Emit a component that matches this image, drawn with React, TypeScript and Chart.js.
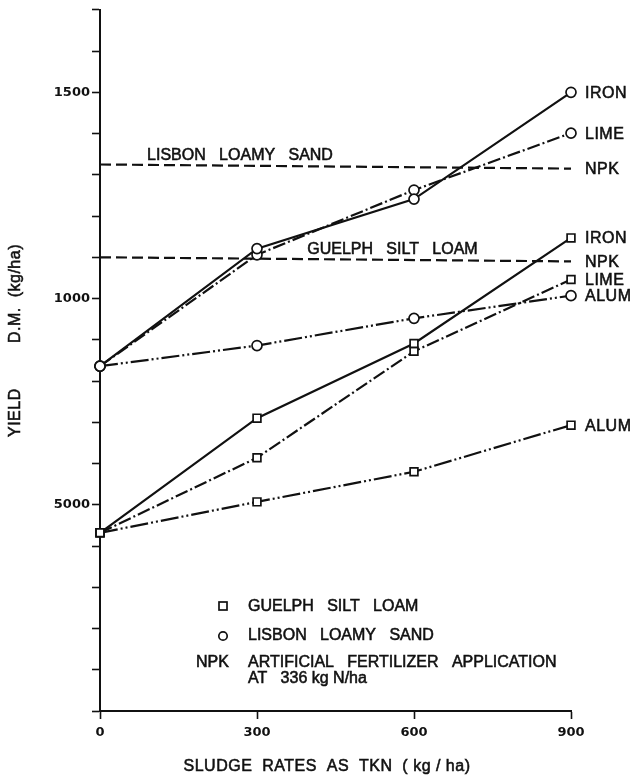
import React, { useEffect, useRef } from 'react';
import { Chart, registerables } from 'chart.js';

Chart.register(...registerables);

// ---- data ----
const sludgeRates = [0, 300, 600, 900];
const lisbonIron = [836, 1121, 1241, 1500];
const lisbonLime = [836, 1106, 1263, 1401];
const lisbonAlum = [836, 886, 952, 1007];
const guelphIron = [432, 710, 891, 1147];
const guelphLime = [432, 614, 872, 1046];
const guelphAlum = [432, 507, 580, 693];
const npkRates = [0, 900];
const lisbonNpk = [1325, 1315];
const guelphNpk = [1100, 1090];

const yTickLabels: Record<number, string> = { 500: '5000', 1000: '1000', 1500: '1500' };
const xAxisTitle = 'SLUDGE  RATES  AS  TKN  ( kg / ha)';
const yAxisTitleA = 'YIELD';
const yAxisTitleB = 'D.M.  (kg/ha)';
const lisbonName = 'LISBON   LOAMY   SAND';
const guelphName = 'GUELPH   SILT   LOAM';
const npkKey = 'NPK';
const npkText1 = 'ARTIFICIAL   FERTILIZER   APPLICATION';
const npkText2 = 'AT   336 kg N/ha';

const pts = (xs: number[], ys: number[]) => xs.map((x, i) => ({ x, y: ys[i] }));

const DASH_DOT = [13, 3, 2, 3];
const DASH_DOT_DOT = [18, 3, 2, 3, 2, 3];
const DASHED = [11, 5];
const FONT = '"Liberation Sans", Arial, sans-serif';
const INK = '#111';

function series(label: string, endLabel: string, xs: number[], ys: number[], dash: number[], style: string) {
  const isNpk = style === 'none';
  return {
    label,
    endLabel,
    data: pts(xs, ys),
    borderColor: INK,
    borderWidth: 2.2,
    borderDash: dash,
    pointStyle: isNpk ? false : style,
    pointRadius: isNpk ? 0 : style === 'rect' ? 5.5 : 5,
    pointBackgroundColor: '#fff',
    pointBorderColor: INK,
    pointBorderWidth: 1.7,
    tension: 0,
    fill: false,
    clip: false,
  };
}

function heavyText(ctx: CanvasRenderingContext2D, text: string, x: number, y: number) {
  ctx.fillText(text, x, y);
  ctx.strokeText(text, x, y);
}

const annotatePlugin = {
  id: 'annotate',
  afterDraw(chart: any) {
    const ctx: CanvasRenderingContext2D = chart.ctx;
    const xs = chart.scales.x;
    const ys = chart.scales.y;
    ctx.save();
    ctx.fillStyle = INK;
    ctx.strokeStyle = INK;
    ctx.font = '16px ' + FONT;
    (ctx as any).letterSpacing = '0.5px';
    ctx.textBaseline = 'middle';
    ctx.textAlign = 'left';
    ctx.lineWidth = 0.55;

    // end-of-line labels
    chart.data.datasets.forEach((ds: any) => {
      const last = ds.data[ds.data.length - 1];
      heavyText(ctx, ds.endLabel, xs.getPixelForValue(last.x) + 14, ys.getPixelForValue(last.y) + 1);
    });

    // axis titles
    ctx.textAlign = 'center';
    heavyText(ctx, xAxisTitle, 327, 767);
    ctx.save();
    ctx.translate(16, 437);
    ctx.rotate(-Math.PI / 2);
    ctx.textAlign = 'left';
    heavyText(ctx, yAxisTitleA, 0, 0);
    heavyText(ctx, yAxisTitleB, 94, 0);
    ctx.restore();

    (ctx as any).letterSpacing = '0px';
    ctx.textAlign = 'left';
    // soil names above NPK lines
    heavyText(ctx, lisbonName, xs.getPixelForValue(90), ys.getPixelForValue(lisbonNpk[0]) - 9);
    heavyText(ctx, guelphName, xs.getPixelForValue(396), ys.getPixelForValue(guelphNpk[0]) - 8);

    // key text
    heavyText(ctx, guelphName, 248, 607);
    heavyText(ctx, lisbonName, 248, 636);
    heavyText(ctx, npkKey, 196, 663);
    heavyText(ctx, npkText1, 248, 663);
    heavyText(ctx, npkText2, 248, 679);

    // key symbols
    ctx.lineWidth = 1.7;
    ctx.strokeRect(219, 602, 8, 8);
    ctx.beginPath();
    ctx.arc(223, 636, 4.2, 0, Math.PI * 2);
    ctx.stroke();

    ctx.restore();
  },
};

export default function App() {
  const ref = useRef<HTMLCanvasElement | null>(null);

  useEffect(() => {
    if (!ref.current) return;
    const tickFont = { family: '"DejaVu Sans", sans-serif', size: 13, weight: 'bold' };
    const chart = new Chart(ref.current, {
      type: 'line',
      data: {
        datasets: [
          series('Lisbon iron', 'IRON', sludgeRates, lisbonIron, [], 'circle'),
          series('Lisbon lime', 'LIME', sludgeRates, lisbonLime, DASH_DOT, 'circle'),
          series('Lisbon alum', 'ALUM', sludgeRates, lisbonAlum, DASH_DOT_DOT, 'circle'),
          series('Guelph iron', 'IRON', sludgeRates, guelphIron, [], 'rect'),
          series('Guelph lime', 'LIME', sludgeRates, guelphLime, DASH_DOT, 'rect'),
          series('Guelph alum', 'ALUM', sludgeRates, guelphAlum, DASH_DOT_DOT, 'rect'),
          series('Lisbon NPK', 'NPK', npkRates, lisbonNpk, DASHED, 'none'),
          series('Guelph NPK', 'NPK', npkRates, guelphNpk, DASHED, 'none'),
        ] as any,
      },
      options: {
        responsive: false,
        animation: false,
        devicePixelRatio: 1,
        layout: { padding: { left: 0, right: 59, top: 7, bottom: 0 } },
        plugins: { legend: { display: false }, tooltip: { enabled: false } },
        scales: {
          x: {
            type: 'linear',
            min: 0,
            max: 900,
            afterFit: (s: any) => { s.height = 68; },
            border: { display: true, color: INK, width: 2 },
            grid: { display: true, drawOnChartArea: false, drawTicks: true, tickLength: 8, tickColor: INK, tickWidth: 1.6 },
            ticks: {
              stepSize: 300,
              color: INK,
              padding: 6,
              font: tickFont,
            },
          },
          y: {
            type: 'linear',
            min: 0,
            max: 1700,
            afterFit: (s: any) => { s.width = 100; },
            border: { display: true, color: INK, width: 2 },
            grid: { display: true, drawOnChartArea: false, drawTicks: true, tickLength: 8, tickColor: INK, tickWidth: 1.6 },
            ticks: {
              stepSize: 100,
              autoSkip: false,
              color: INK,
              padding: 2,
              font: tickFont,
              callback: (v: any) => yTickLabels[Number(v)] ?? '',
            },
          },
        },
      } as any,
      plugins: [annotatePlugin],
    });
    return () => chart.destroy();
  }, []);

  return (
    <div style={{ position: 'absolute', left: 0, top: 0, width: 630, height: 779, background: '#fff' }}>
      <canvas ref={ref} width={630} height={779} style={{ display: 'block' }} />
    </div>
  );
}
